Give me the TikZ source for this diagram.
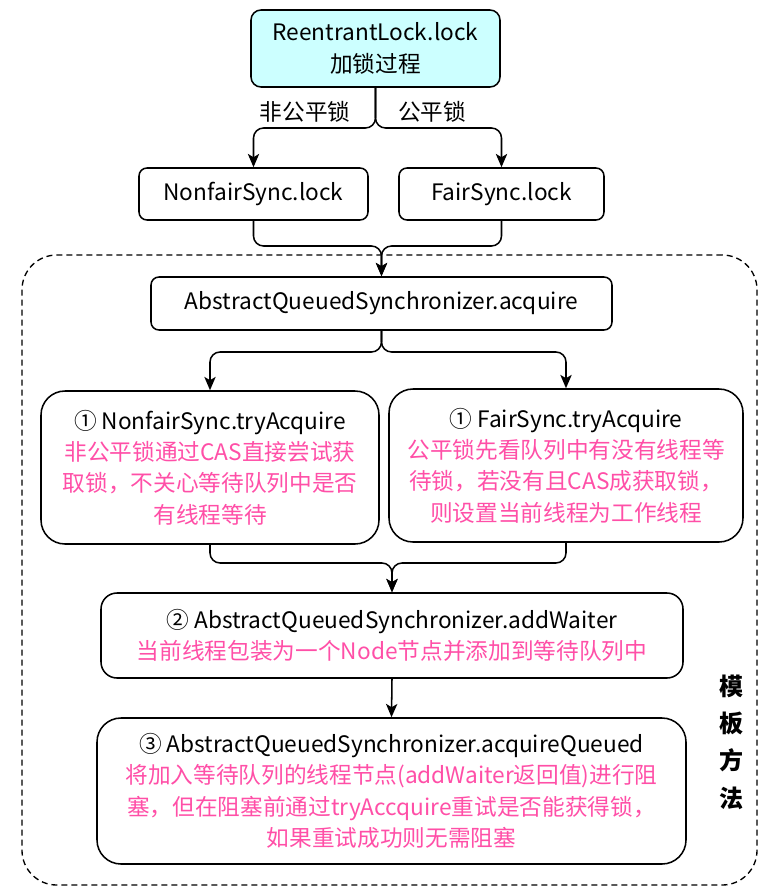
\documentclass[tikz,border=0pt]{standalone}
\usepackage{fontspec}
\setmainfont{Noto Sans CJK SC}
\usetikzlibrary{arrows.meta}
\definecolor{pinkt}{HTML}{FF4FA7}
\definecolor{cyanf}{HTML}{CCFFFF}
\begin{document}
\begin{tikzpicture}[x=0.75pt,y=-0.75pt,
 box/.style={draw, line width=1.15pt, inner sep=0pt, align=center, font=\fontsize{17}{23.5}\selectfont},
 sz/.style 2 args={minimum width=#1*0.75pt, minimum height=#2*0.75pt},
 conn/.style={line width=1.15pt, rounded corners=7.5pt, -{Stealth[length=10pt,width=8.5pt,inset=2.5pt]}},
 lbl/.style={font=\fontsize{17}{20}\selectfont}
]
\useasboundingbox (0,0) rectangle (766,892);
\node[draw, line width=1pt, dash pattern=on 4.5pt off 3pt, rounded corners=26pt, inner sep=0pt, sz={735}{630}] (frame) at (389.5,570) {};

\node[box, fill=cyanf, rounded corners=7.5pt, sz={249}{77}] (top) at (375.5,48.5) {ReentrantLock.lock\\加锁过程};
\node[box, rounded corners=6pt, sz={229}{52}] (nfl) at (253.5,194) {NonfairSync.lock};
\node[box, rounded corners=6pt, sz={205}{52}] (fl) at (501.5,194) {FairSync.lock};
\node[box, rounded corners=6pt, sz={461}{53}] (acq) at (381.5,303.5) {AbstractQueuedSynchronizer.acquire};
\node[box, rounded corners=18pt, sz={338}{153}] (ntry) at (210,467.5) {① NonfairSync.tryAcquire\\{\color{pinkt}非公平锁通过CAS直接尝试获}\\{\color{pinkt}取锁，不关心等待队列中是否}\\{\color{pinkt}有线程等待}};
\node[box, rounded corners=18pt, sz={354}{153}] (ftry) at (566,465.5) {① FairSync.tryAcquire\\{\color{pinkt}公平锁先看队列中有没有线程等}\\{\color{pinkt}待锁，若没有且CAS成获取锁，}\\{\color{pinkt}则设置当前线程为工作线程}};
\node[box, rounded corners=12pt, sz={582}{85}] (add) at (392,635.5) {② AbstractQueuedSynchronizer.addWaiter\\{\color{pinkt}当前线程包装为一个Node节点并添加到等待队列中}};
\node[box, rounded corners=18pt, sz={589}{146}] (aq) at (391.5,791) {③ AbstractQueuedSynchronizer.acquireQueued\\{\color{pinkt}将加入等待队列的线程节点(addWaiter返回值)进行阻}\\{\color{pinkt}塞，但在阻塞前通过tryAccquire重试是否能获得锁，}\\{\color{pinkt}如果重试成功则无需阻塞}};

\node[lbl] (l1) at (305,112) {非公平锁};
\node[lbl] (l2) at (432,112) {公平锁};
\node[font=\fontsize{18}{28}\selectfont\bfseries, align=center] (tm) at (731,742) {模\\板\\方\\法};

\coordinate (h1) at (0,128);
\coordinate (h2) at (0,246);
\coordinate (h3) at (0,352);
\coordinate (h4) at (0,563);

\draw[conn] (top.south) -- (top.south |- h1) -| (nfl.north);
\draw[conn] (top.south) -- (top.south |- h1) -| (fl.north);
\draw[conn] (nfl.south) -- (nfl.south |- h2) -| (acq.north);
\draw[conn] (fl.south) -- (fl.south |- h2) -| (acq.north);
\draw[conn] (acq.south) -- (acq.south |- h3) -| (ntry.north);
\draw[conn] (acq.south) -- (acq.south |- h3) -| (ftry.north);
\draw[conn] (ntry.south) -- (ntry.south |- h4) -| (add.north);
\draw[conn] (ftry.south) -- (ftry.south |- h4) -| (add.north);
\draw[conn] (add.south) -- (aq.north);
\end{tikzpicture}
\end{document}
